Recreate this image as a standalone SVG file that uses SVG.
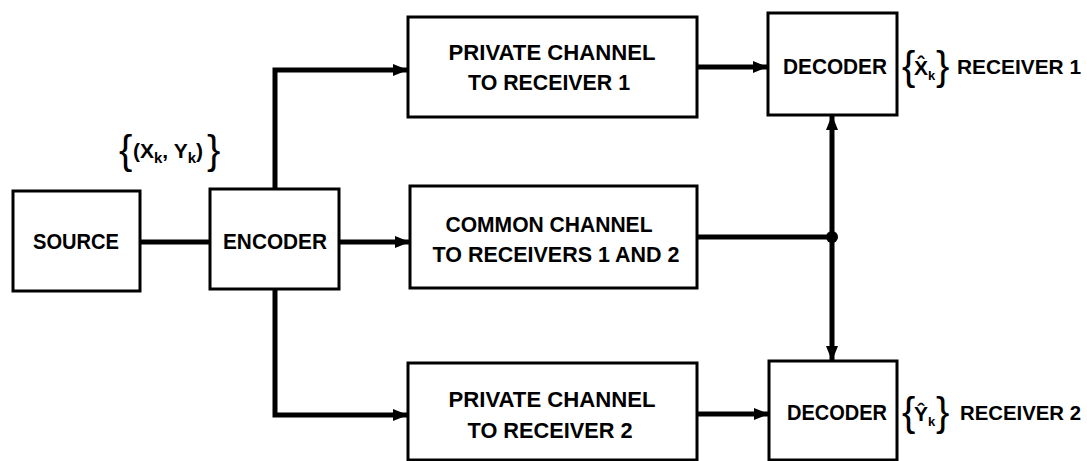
<svg xmlns="http://www.w3.org/2000/svg" width="1087" height="461" viewBox="0 0 1087 461">
  <style>
    .box { fill: #fff; stroke: #000; stroke-width: 3; }
    .lbl { font-family: "Liberation Sans", Arial, sans-serif; font-weight: bold; font-size: 22px; fill: #000; text-anchor: middle; }
    .side { font-family: "Liberation Sans", Arial, sans-serif; font-weight: bold; font-size: 20.5px; fill: #000; }
    .brace { font-family: "Liberation Sans", Arial, sans-serif; font-size: 40px; fill: #000; }
    .sym { font-family: "Liberation Sans", "DejaVu Sans", sans-serif; font-weight: bold; font-size: 21px; fill: #000; }
    .wire { fill: none; stroke: #000; stroke-width: 5; stroke-linejoin: miter; }
  </style>
  <defs>
    <marker id="arrow" viewBox="0 0 15 12" refX="14" refY="6" markerWidth="15" markerHeight="12" markerUnits="userSpaceOnUse" orient="auto">
      <path d="M0,0 L15,6 L0,12 Z" fill="#000"/>
    </marker>
  </defs>

  <rect width="1087" height="461" fill="#fff"/>

  <!-- connectors -->
  <g id="connectors">
    <line class="wire" x1="140" y1="242" x2="210" y2="242"/>
    <polyline class="wire" points="275,189 275,70 407,70" marker-end="url(#arrow)"/>
    <line class="wire" x1="339" y1="242" x2="409" y2="242" marker-end="url(#arrow)"/>
    <polyline class="wire" points="275,289 275,415 407,415" marker-end="url(#arrow)"/>
    <line class="wire" x1="697" y1="67" x2="767" y2="67" marker-end="url(#arrow)"/>
    <line class="wire" x1="697" y1="237" x2="832" y2="237"/>
    <line class="wire" x1="832" y1="237" x2="832" y2="116" marker-end="url(#arrow)"/>
    <line class="wire" x1="832" y1="237" x2="832" y2="360" marker-end="url(#arrow)"/>
    <line class="wire" x1="697" y1="414" x2="768" y2="414" marker-end="url(#arrow)"/>
    <circle cx="832" cy="237" r="6" fill="#000"/>
  </g>

  <g id="source">
    <rect class="box" x="13" y="191" width="127" height="100"/>
    <text class="lbl" x="76" y="249" textLength="86" lengthAdjust="spacingAndGlyphs">SOURCE</text>
  </g>

  <g id="encoder">
    <rect class="box" x="210" y="189" width="129" height="100"/>
    <text class="lbl" x="275" y="249" textLength="104" lengthAdjust="spacingAndGlyphs">ENCODER</text>
  </g>

  <g id="source-label">
    <text class="brace" x="119" y="164">{</text>
    <text class="sym" x="133" y="158">(X<tspan font-size="15" dy="5">k</tspan><tspan dy="-5">, Y</tspan><tspan font-size="15" dy="5">k</tspan><tspan dy="-5">)</tspan></text>
    <text class="brace" x="207" y="164">}</text>
  </g>

  <g id="private1">
    <rect class="box" x="408" y="17" width="289" height="100"/>
    <text class="lbl" x="552" y="60" textLength="207" lengthAdjust="spacingAndGlyphs">PRIVATE CHANNEL</text>
    <text class="lbl" x="549" y="90" textLength="162" lengthAdjust="spacingAndGlyphs">TO RECEIVER 1</text>
  </g>

  <g id="common">
    <rect class="box" x="410" y="186" width="287" height="102"/>
    <text class="lbl" x="549" y="232" textLength="207" lengthAdjust="spacingAndGlyphs">COMMON CHANNEL</text>
    <text class="lbl" x="556" y="262" textLength="247" lengthAdjust="spacingAndGlyphs">TO RECEIVERS 1 AND 2</text>
  </g>

  <g id="private2">
    <rect class="box" x="408" y="363" width="289" height="97"/>
    <text class="lbl" x="552" y="407" textLength="207" lengthAdjust="spacingAndGlyphs">PRIVATE CHANNEL</text>
    <text class="lbl" x="550" y="438" textLength="165" lengthAdjust="spacingAndGlyphs">TO RECEIVER 2</text>
  </g>

  <g id="decoder1">
    <rect class="box" x="768" y="13" width="129" height="102"/>
    <text class="lbl" x="835" y="74" textLength="104" lengthAdjust="spacingAndGlyphs">DECODER</text>
  </g>

  <g id="decoder2">
    <rect class="box" x="769" y="361" width="128" height="99"/>
    <text class="lbl" x="837" y="420" textLength="100" lengthAdjust="spacingAndGlyphs">DECODER</text>
  </g>

  <g id="receiver1-label">
    <text class="brace" x="902" y="80">{</text>
    <text class="sym" x="914" y="75">X̂<tspan font-size="13" dy="5">k</tspan></text>
    <text class="brace" x="936" y="80">}</text>
    <text class="side" x="957" y="74" textLength="124" lengthAdjust="spacingAndGlyphs">RECEIVER 1</text>
  </g>

  <g id="receiver2-label">
    <text class="brace" x="902" y="426">{</text>
    <text class="sym" x="914" y="421">Ŷ<tspan font-size="13" dy="5">k</tspan></text>
    <text class="brace" x="936" y="426">}</text>
    <text class="side" x="960" y="420" textLength="121" lengthAdjust="spacingAndGlyphs">RECEIVER 2</text>
  </g>
</svg>
